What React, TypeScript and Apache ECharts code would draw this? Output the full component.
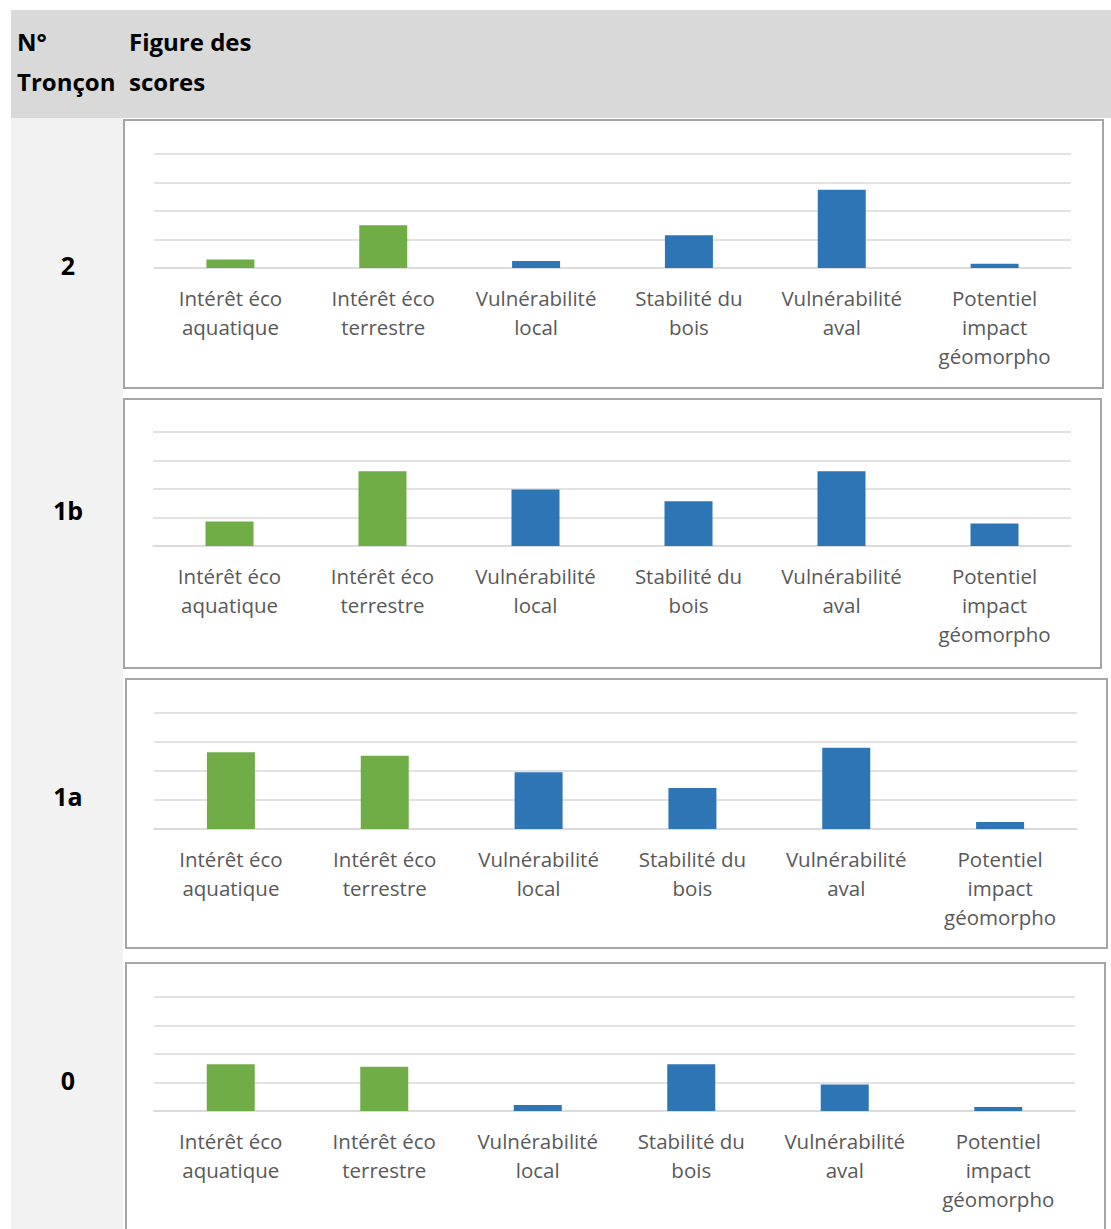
import React, { useEffect, useRef } from "react";
import * as echarts from "echarts";

// Score categories shown under every chart
const categories = [
  "Intérêt éco\naquatique",
  "Intérêt éco\nterrestre",
  "Vulnérabilité\nlocal",
  "Stabilité du\nbois",
  "Vulnérabilité\naval",
  "Potentiel\nimpact\ngéomorpho",
];

// Row labels (tronçon numbers), top to bottom
const troncons = ["2", "1b", "1a", "0"];

// Scores per tronçon, in category order
const scores2 = [0.3, 1.5, 0.25, 1.15, 2.75, 0.15];
const scores1b = [0.86, 2.62, 1.98, 1.57, 2.62, 0.79];
const scores1a = [2.65, 2.53, 1.96, 1.41, 2.8, 0.24];
const scores0 = [1.64, 1.55, 0.21, 1.64, 0.93, 0.14];

const seriesValues = [scores2, scores1b, scores1a, scores0];

// First two categories are ecological interests (green), the rest are risks (blue)
const ECO_COLOR = "#70ad47";
const RISK_COLOR = "#2e75b6";
const ecoCount = 2;

const W = 1111;
const H = 1229;

// Layout of each chart frame and its plot area
const frames = [
  { x: 124, y: 120, w: 979, h: 268, plotL: 154, plotR: 1071, plotT: 154, plotB: 268, labelY: 265 },
  { x: 124, y: 399, w: 977, h: 269, plotL: 153, plotR: 1071, plotT: 432, plotB: 546, labelY: 510 },
  { x: 126, y: 679, w: 981, h: 269, plotL: 154, plotR: 1077, plotT: 713, plotB: 829, labelY: 796 },
  { x: 126, y: 963, w: 979, h: 290, plotL: 154, plotR: 1075, plotT: 997, plotB: 1111, labelY: 1080 },
];

const TEXT_FONT = "'Open Sans', 'Noto Sans', sans-serif";

export default function App() {
  const ref = useRef<HTMLDivElement>(null);

  useEffect(() => {
    if (!ref.current) return;
    const chart = echarts.init(ref.current, undefined, { renderer: "svg" });

    const grids = frames.map((f) => ({
      left: f.plotL,
      right: W - f.plotR,
      top: f.plotT,
      bottom: H - f.plotB,
      containLabel: false,
    }));

    const xAxes = frames.map((_, i) => ({
      type: "category",
      gridIndex: i,
      data: categories,
      axisLine: { show: true, lineStyle: { color: "#d9d9d9", width: 1.5 } },
      axisTick: { show: false },
      axisLabel: {
        interval: 0,
        color: "#595959",
        fontFamily: TEXT_FONT,
        fontSize: 20.5,
        lineHeight: 29,
        margin: 15,
      },
    }));

    const yAxes = frames.map((_, i) => ({
      type: "value",
      gridIndex: i,
      min: 0,
      max: 4,
      interval: 1,
      axisLabel: { show: false },
      axisLine: { show: false },
      axisTick: { show: false },
      splitLine: { show: true, lineStyle: { color: "#d9d9d9", width: 1.5 } },
    }));

    const series = seriesValues.map((vals, i) => ({
      type: "bar",
      xAxisIndex: i,
      yAxisIndex: i,
      barWidth: 48,
      data: vals.map((v, j) => ({
        value: v,
        itemStyle: { color: j < ecoCount ? ECO_COLOR : RISK_COLOR },
      })),
    }));

    const graphics: any[] = [
      // header band
      { type: "rect", z: -10, shape: { x: 11, y: 10, width: W - 11, height: 108 }, style: { fill: "#d9d9d9" } },
      // left column
      { type: "rect", z: -10, shape: { x: 11, y: 118, width: 112, height: H - 118 }, style: { fill: "#f2f2f2" } },
      {
        type: "text",
        left: 17,
        top: 21,
        style: { text: "N°\nTronçon", font: `bold 24px ${TEXT_FONT}`, lineHeight: 40, fill: "#000" },
      },
      {
        type: "text",
        left: 129,
        top: 21,
        style: { text: "Figure des\nscores", font: `bold 24px ${TEXT_FONT}`, lineHeight: 40, fill: "#000" },
      },
    ];

    frames.forEach((f, i) => {
      graphics.push({
        type: "rect",
        z: -5,
        shape: { x: f.x, y: f.y, width: f.w, height: f.h },
        style: { fill: "#ffffff", stroke: "#a6a6a6", lineWidth: 2 },
      });
      graphics.push({
        type: "text",
        x: 68,
        y: f.labelY,
        style: {
          text: troncons[i],
          font: `bold 25px ${TEXT_FONT}`,
          fill: "#000",
          align: "center",
          verticalAlign: "middle",
        },
      });
    });

    chart.setOption({
      animation: false,
      backgroundColor: "#ffffff",
      grid: grids,
      xAxis: xAxes,
      yAxis: yAxes,
      series,
      graphic: graphics,
    });

    return () => chart.dispose();
  }, []);

  return (
    <div
      ref={ref}
      style={{ position: "absolute", left: 0, top: 0, width: W, height: H }}
    />
  );
}
